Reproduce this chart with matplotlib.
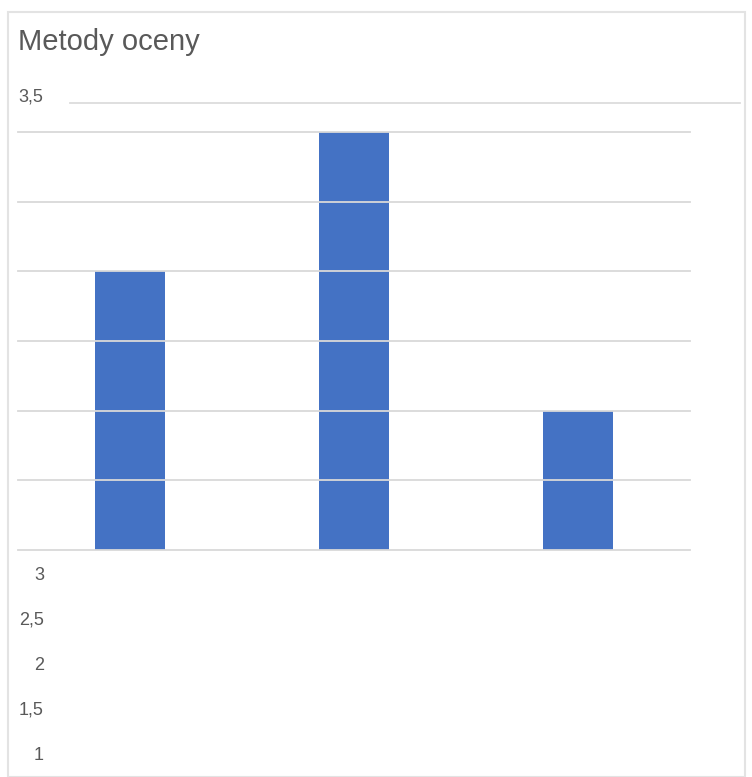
import matplotlib.pyplot as plt
from matplotlib.lines import Line2D
from matplotlib.patches import Rectangle

W, H = 752, 777

categories = ['A', 'B', 'C']
values = [2, 3, 1]
grid_values = [0, 0.5, 1, 1.5, 2, 2.5, 3]
top_label = '3,5'
stray_labels = ['3', '2,5', '2', '1,5', '1']

plt.rcParams['font.family'] = ['Liberation Sans', 'DejaVu Sans']

fig = plt.figure(figsize=(W / 100, H / 100), dpi=100)
fig.patch.set_facecolor('white')


def fx(px):
    return px / W


def fy(py):
    return 1 - py / H


# chart frame
fig.add_artist(Rectangle((fx(8), fy(777)), fx(745) - fx(8), fy(12) - fy(777),
                         transform=fig.transFigure, fill=False,
                         edgecolor='#e3e3e3', linewidth=1.5))

ax = fig.add_axes([fx(18), fy(550), fx(690) - fx(18), fy(132) - fy(550)])
ax.bar(range(len(categories)), values, width=0.3125, color='#4472C4', zorder=1)
for g in grid_values:
    ax.axhline(g, color='#d9d9d9', linewidth=1.3, zorder=2, clip_on=False)
ax.set_xlim(-0.5, 2.5)
ax.set_ylim(0, 3)
ax.axis('off')

# separate top line
fig.add_artist(Line2D([fx(70), fx(740)], [fy(103), fy(103)],
                      transform=fig.transFigure, color='#dcdcdc', linewidth=1.3))

fig.text(fx(18), fy(42), 'Metody oceny', fontsize=21, color='#595959',
         ha='left', va='center')
fig.text(fx(18), fy(97), top_label, fontsize=13, color='#595959',
         ha='left', va='center')
for i, lab in enumerate(stray_labels):
    fig.text(fx(44), fy(575 + 45 * i), lab, fontsize=13, color='#595959',
             ha='right', va='center')

fig.savefig('out.png', dpi=100)
